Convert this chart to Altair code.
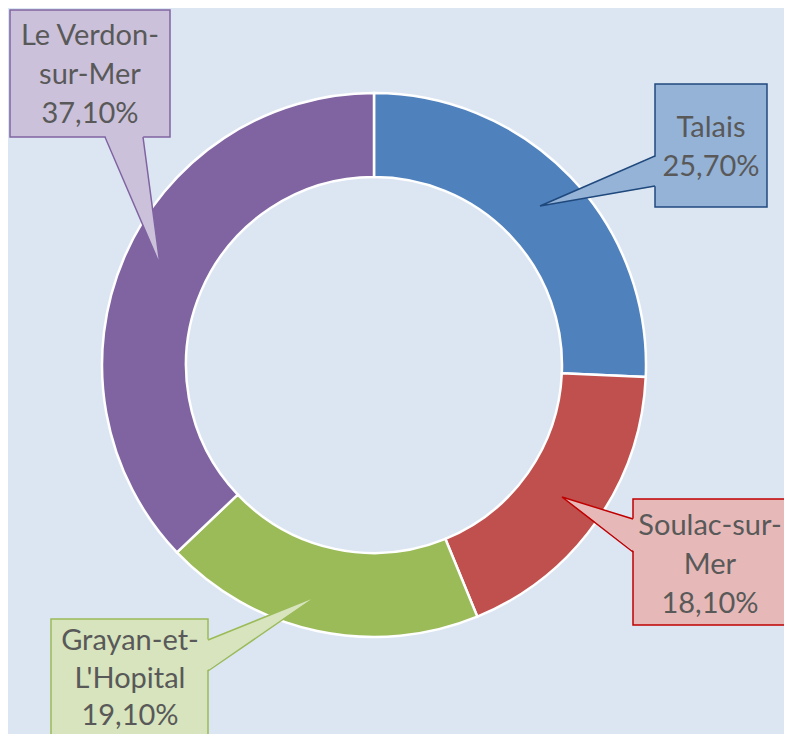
import altair as alt
import pandas as pd

# ---- data ----
categories = ["Talais", "Soulac-sur-Mer", "Grayan-et-L'Hopital", "Le Verdon-sur-Mer"]
shares = [25.7, 18.1, 19.1, 37.1]
name_lines = [["Talais"], ["Soulac-sur-", "Mer"], ["Grayan-et-", "L'Hopital"], ["Le Verdon-", "sur-Mer"]]
slice_colors = ["#4f81bd", "#c0504d", "#9bbb59", "#8064a2"]
box_fills = ["#95b3d7", "#e6b9b8", "#d7e4bd", "#ccc1da"]
box_strokes = ["#1f497d", "#c00000", "#9bbb59", "#8064a2"]

# ---- layout (pixel space of the 792x742 picture) ----
W, H = 776, 726
CX, CY = 374, 365
R_OUT, R_IN = 272, 188
box_x1 = [655, 633, 51, 10]
box_x2 = [767, 800, 208, 170]
box_y1 = [84, 499, 619, 10]
box_y2 = [207, 625, 760, 137]
text_x = [711, 710, 130, 90]
text_y = [137, 535, 650, 45]
line_h = [39, 39, 37.5, 39]
tips = [(540, 206), (562, 497), (317, 596), (160, 265)]
# base of pointers: (edge orientation, edge position, start, end, inside offset)
bases = [("v", 655, 156, 186, 2), ("v", 633, 519, 552, 2), ("v", 208, 640, 671, -2), ("h", 137, 105, 143, -2)]

def pct(v):
    return f"{v:.2f}".replace(".", ",") + "%"

slices = pd.DataFrame({"cat": categories, "share": shares, "ord": range(4)})

boxes = pd.DataFrame({
    "id": range(4), "x1": box_x1, "x2": box_x2, "y1": box_y1, "y2": box_y2,
    "fill": box_fills, "stroke": box_strokes,
})

text_rows = []
for i in range(4):
    lines = name_lines[i] + [pct(shares[i])]
    for k, t in enumerate(lines):
        text_rows.append({"id": i, "tx": text_x[i], "ty": text_y[i] + k * line_h[i], "t": t})
texts_df = pd.DataFrame(text_rows)

vrows, hrows, lrows = [], [], []
for i, (kind, e, a, b, off) in enumerate(bases):
    tx, ty = tips[i]
    if kind == "v":
        vrows.append({"id": i, "x": tx, "y": ty, "y2": ty, "fill": box_fills[i]})
        vrows.append({"id": i, "x": e + off, "y": a, "y2": b, "fill": box_fills[i]})
        lrows += [{"id": i, "x": e, "y": a, "o": 0, "stroke": box_strokes[i]},
                  {"id": i, "x": tx, "y": ty, "o": 1, "stroke": box_strokes[i]},
                  {"id": i, "x": e, "y": b, "o": 2, "stroke": box_strokes[i]}]
    else:
        hrows.append({"id": i, "y": ty, "x": tx, "x2": tx, "fill": box_fills[i]})
        hrows.append({"id": i, "y": e + off, "x": a, "x2": b, "fill": box_fills[i]})
        lrows += [{"id": i, "x": a, "y": e, "o": 0, "stroke": box_strokes[i]},
                  {"id": i, "x": tx, "y": ty, "o": 1, "stroke": box_strokes[i]},
                  {"id": i, "x": b, "y": e, "o": 2, "stroke": box_strokes[i]}]
vtri = pd.DataFrame(vrows)
htri = pd.DataFrame(hrows)
tlines = pd.DataFrame(lrows)

xs = alt.Scale(domain=[8, 8 + W], nice=False, zero=False)
ys = alt.Scale(domain=[8, 8 + H], nice=False, zero=False, reverse=True)
X = lambda f: alt.X(f, type="quantitative", scale=xs, axis=None)
Y = lambda f: alt.Y(f, type="quantitative", scale=ys, axis=None)

ring = alt.Chart(slices).mark_arc(
    outerRadius=R_OUT, innerRadius=R_IN, stroke="white", strokeWidth=2.5
).encode(
    theta=alt.Theta("share:Q", stack=True),
    order=alt.Order("ord:Q"),
    color=alt.Color("cat:N", scale=alt.Scale(domain=categories, range=slice_colors), legend=None),
    x=alt.X(datum=CX, type="quantitative", scale=xs, axis=None),
    y=alt.Y(datum=CY, type="quantitative", scale=ys, axis=None),
)

rects = alt.Chart(boxes).mark_rect(strokeWidth=1.5, clip=True).encode(
    x=X("x1"), x2="x2", y=Y("y1"), y2="y2",
    fill=alt.Fill("fill:N", scale=None),
    stroke=alt.Stroke("stroke:N", scale=None),
)

vareas = alt.Chart(vtri).mark_area(orient="vertical").encode(
    x=X("x"), y=Y("y"), y2="y2", detail="id:N",
    fill=alt.Fill("fill:N", scale=None),
)
hareas = alt.Chart(htri).mark_area(orient="horizontal").encode(
    y=Y("y"), x=X("x"), x2="x2", detail="id:N",
    fill=alt.Fill("fill:N", scale=None),
)
plines = alt.Chart(tlines).mark_line(strokeWidth=1.5, strokeJoin="miter").encode(
    x=X("x"), y=Y("y"), detail="id:N", order="o:Q",
    stroke=alt.Stroke("stroke:N", scale=None),
)

texts = alt.Chart(texts_df).mark_text(
    font="Lato", fontSize=29, color="#595959",
    align="center", baseline="alphabetic", clip=True,
).encode(x=X("tx"), y=Y("ty"), text="t:N")

chart = alt.layer(ring, rects, vareas, hareas, plines, texts).properties(
    width=W, height=H, padding=0, autosize=alt.AutoSizeParams(type="none"),
    background="#dce6f2",
).configure_view(stroke=None)

chart.save("out.html", embed_options={"renderer": "svg", "actions": False})
